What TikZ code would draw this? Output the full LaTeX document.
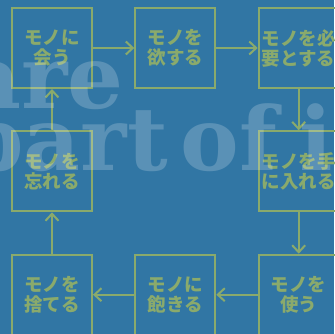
\documentclass[tikz,border=0pt]{standalone}
\usepackage{fontspec}
\usetikzlibrary{arrows.meta}
\newfontfamily\jp{Noto Sans CJK JP}
\newfontfamily\fserif{DejaVu Serif}
\definecolor{bgblue}{RGB}{49,118,164}
\definecolor{olive}{RGB}{138,170,108}
\tikzset{
  stagebox/.style={draw=olive, line width=2pt, minimum width=80pt, minimum height=80pt,
    inner sep=0pt, align=center, text=olive, font=\jp\bfseries\fontsize{18.5}{20}\selectfont},
  flow/.style={draw=olive, line width=2pt, -{Straight Barb[length=7pt,width=13pt,line width=2pt]}},
  bgword/.style={text=white, opacity=0.2, inner sep=0pt}
}
\begin{document}
\begin{tikzpicture}[x=1pt,y=-1pt]
\fill[bgblue] (0,0) rectangle (334,334);
\useasboundingbox (0,0) rectangle (334,334);
\node[stagebox] (b1) at (52,48) {モノに\\会う};
\node[stagebox] (b2) at (175.3,48) {モノを\\欲する};
\node[stagebox] (b3) at (298.7,48) {モノを必\\要とする};
\node[stagebox] (b4) at (298.7,171.3) {モノを手\\に入れる};
\node[stagebox] (b5) at (298.7,294.7) {モノを\\使う};
\node[stagebox] (b6) at (175.3,294.7) {モノに\\飽きる};
\node[stagebox] (b7) at (52,294.7) {モノを\\捨てる};
\node[stagebox] (b8) at (52,171.3) {モノを\\忘れる};
\draw[flow] (b1) -- (b2);
\draw[flow] (b2) -- (b3);
\draw[flow] (b3) -- (b4);
\draw[flow] (b4) -- (b5);
\draw[flow] (b5) -- (b6);
\draw[flow] (b6) -- (b7);
\draw[flow] (b7) -- (b8);
\draw[flow] (b8) -- (b1);
\node[bgword, anchor=base east] (w1) at (124,108) {\fserif\bfseries\fontsize{88}{88}\selectfont are};
\node[bgword, anchor=base west] (w2) at (-38,170) {\fserif\bfseries\fontsize{88}{88}\selectfont part\hspace{0.15em}of\hspace{0.25em}it};
\end{tikzpicture}
\end{document}
